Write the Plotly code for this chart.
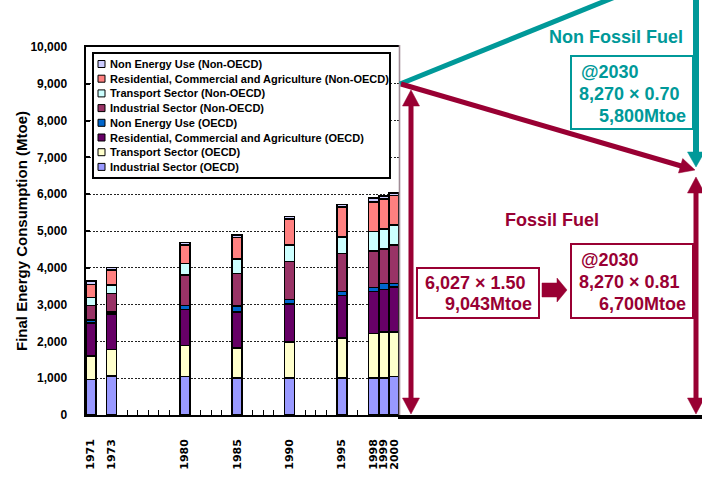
import plotly.graph_objects as go

W, H = 702, 478

# ---------------- data ----------------
years = [1971, 1973, 1980, 1985, 1990, 1995, 1998, 1999, 2000]
industrial_oecd = [960, 1065, 1047, 1002, 1002, 1002, 1002, 1002, 1047]
transport_oecd = [650, 710, 838, 819, 983, 1092, 1211, 1256, 1211]
residential_oecd = [890, 965, 983, 984, 1038, 1157, 1138, 1157, 1221]
non_energy_oecd = [80, 60, 110, 155, 119, 109, 109, 155, 91]
industrial_non_oecd = [400, 506, 819, 883, 1029, 1029, 1002, 938, 1047]
transport_non_oecd = [210, 219, 319, 392, 455, 456, 528, 546, 546]
residential_non_oecd = [360, 418, 510, 591, 701, 801, 792, 820, 802]
non_energy_non_oecd = [90, 64, 64, 64, 64, 73, 110, 72, 62]

series_names = [
    "Industrial Sector (OECD)",
    "Transport Sector (OECD)",
    "Residential, Commercial and Agriculture (OECD)",
    "Non Energy Use (OECD)",
    "Industrial Sector (Non-OECD)",
    "Transport Sector (Non-OECD)",
    "Residential, Commercial and Agriculture (Non-OECD)",
    "Non Energy Use (Non-OECD)",
]
series_values = [industrial_oecd, transport_oecd, residential_oecd, non_energy_oecd,
                 industrial_non_oecd, transport_non_oecd, residential_non_oecd,
                 non_energy_non_oecd]
series_colors = ["#9999FF", "#FFFFCC", "#660066", "#0066CC",
                 "#993366", "#CCFFFF", "#FF8080", "#CCCCFF"]

y_ticks = list(range(0, 10001, 1000))

TEAL = "#009999"
RED = "#990033"
FONT = "Liberation Sans, Arial, sans-serif"


def px(x):
    return x / W


def py(y):
    return 1 - y / H


def poly(points):
    s = "M " + " L ".join(f"{px(x):.5f},{py(y):.5f}" for x, y in points) + " Z"
    return s


def head(tip, tail, L, Wd):
    tx, ty = tip
    dx, dy = tx - tail[0], ty - tail[1]
    n = (dx * dx + dy * dy) ** 0.5
    ux, uy = dx / n, dy / n
    bx, by = tx - L * ux, ty - L * uy
    nx, ny = -uy, ux
    return [(tx, ty), (bx + Wd * nx, by + Wd * ny), (bx - Wd * nx, by - Wd * ny)]


fig = go.Figure()
for name, vals, col in zip(series_names, series_values, series_colors):
    fig.add_trace(go.Bar(
        x=years, y=vals, name=name, marker=dict(color=col, line=dict(color="black", width=1.6)),
        showlegend=False,
    ))

shapes = []
annotations = []


def line(x0, y0, x1, y1, color, width):
    shapes.append(dict(type="line", xref="paper", yref="paper",
                       x0=px(x0), y0=py(y0), x1=px(x1), y1=py(y1),
                       line=dict(color=color, width=width), layer="above"))


def tri(points, color):
    shapes.append(dict(type="path", xref="paper", yref="paper", path=poly(points),
                       fillcolor=color, line=dict(color=color, width=0.5), layer="above"))


def rect(x0, y0, x1, y1, color, width, fill="white"):
    shapes.append(dict(type="rect", xref="paper", yref="paper",
                       x0=px(x0), y0=py(y0), x1=px(x1), y1=py(y1),
                       line=dict(color=color, width=width), fillcolor=fill, layer="above"))


def text(x, y, t, color, size, anchor="left", angle=0):
    annotations.append(dict(xref="paper", yref="paper", x=px(x), y=py(y), text=t,
                            showarrow=False, xanchor=anchor, yanchor="middle",
                            textangle=angle,
                            font=dict(family=FONT, size=size, color=color, weight="bold")))


# plot right border
line(399.5, 45, 399.5, 415, "#A08C96", 1.6)

# legend (manual)
rect(93, 53, 390, 178, "black", 2)
legend_order = list(range(7, -1, -1))
for i, k in enumerate(legend_order):
    cy = 64 + 14.7 * i
    shapes.append(dict(type="rect", xref="paper", yref="paper",
                       x0=px(98), y0=py(cy + 3.5), x1=px(105), y1=py(cy - 3.5),
                       line=dict(color="black", width=1), fillcolor=series_colors[k],
                       layer="above"))
    text(108, cy, series_names[k], "black", 11)

# y axis title
text(22, 231, "Final Energy Consumption (Mtoe)", "black", 15, anchor="center", angle=-90)

# ---- diagram on the right ----
line(398, 417, 702, 417, "black", 4)
line(400, 84, 615, -3, TEAL, 5)
line(696, -3, 696, 155, TEAL, 6)
tri(head((696, 167), (696, 0), 15, 8.5), TEAL)
line(401, 84, 683, 166.5, RED, 5)
tri(head((695, 170), (401, 84), 15, 7.5), RED)
line(411, 104, 411, 400, RED, 5)
tri(head((411, 90), (411, 300), 16, 8.5), RED)
tri(head((411, 414), (411, 200), 16, 8.5), RED)
line(696, 190, 696, 400, RED, 5)
tri(head((696, 177), (696, 300), 16, 8.5), RED)
tri(head((696, 414), (696, 200), 16, 8.5), RED)

text(547, 37, "Non Fossil Fuel", TEAL, 18)
rect(571, 56, 693, 129, TEAL, 2)
text(579, 72, "@2030", TEAL, 18)
text(577, 94, "8,270 \u00d7 0.70", TEAL, 18)
text(597, 116, "5,800Mtoe", TEAL, 18)

text(503, 220, "Fossil Fuel", RED, 18)
rect(417, 268, 539, 318, RED, 2)
text(423, 283, "6,027 \u00d7 1.50", RED, 18)
text(443, 304, "9,043Mtoe", RED, 18)
tri([(542, 283), (557, 283), (557, 278), (567, 290), (557, 302), (557, 297), (542, 297)], RED)
rect(571, 244, 693, 318, RED, 2)
text(579, 260, "@2030", RED, 18)
text(577, 282, "8,270 \u00d7 0.81", RED, 18)
text(597, 304, "6,700Mtoe", RED, 18)

fig.update_layout(
    width=W, height=H,
    autosize=False,
    margin=dict(l=0, r=0, t=0, b=0, pad=0, autoexpand=False),
    paper_bgcolor="white", plot_bgcolor="white",
    barmode="stack", bargap=0.04,
    showlegend=False,
    shapes=shapes, annotations=annotations,
    font=dict(family=FONT, color="black"),
    xaxis=dict(
        domain=[px(85.5), px(399.5)],
        range=[1970.5, 2000.5],
        automargin=False,
        tickmode="array", tickvals=years, ticktext=[str(y) for y in years],
        tickangle=-90,
        tickfont=dict(family="DejaVu Sans", size=11, color="black", weight="bold"),
        ticks="", ticklabelstandoff=18,
        minor=dict(tick0=1970.5, dtick=1, ticks="inside", ticklen=5,
                   tickcolor="black", tickwidth=1.2, showgrid=False),
        showgrid=False, zeroline=False,
        showline=True, linecolor="black", linewidth=1.5, mirror=True,
        layer="below traces", fixedrange=True,
    ),
    yaxis=dict(
        domain=[py(415), py(47)],
        range=[0, 10000],
        automargin=False,
        tickmode="array", tickvals=y_ticks,
        ticktext=[f"{v:,}" for v in y_ticks],
        tickfont=dict(family=FONT, size=12, color="black", weight="bold"),
        ticks="inside", ticklen=4, tickcolor="black", tickwidth=1.5,
        ticklabelstandoff=14,
        showgrid=True, gridcolor="#222222", gridwidth=1.3, griddash="2px,1.5px",
        zeroline=False,
        showline=True, linecolor="black", linewidth=2,
        layer="below traces", fixedrange=True,
    ),
)

fig.write_html(
    "out.html",
    config={"responsive": False, "displayModeBar": False},
    post_script="document.body.style.margin='0';document.body.style.padding='0';",
)
